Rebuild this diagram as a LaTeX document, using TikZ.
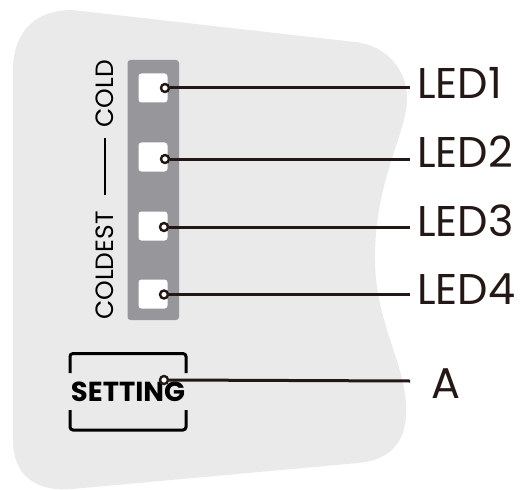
\documentclass[tikz,border=0pt]{standalone}
\usepackage{fontspec}
\setmainfont{Poppins}
\definecolor{bg}{HTML}{EAEAEA}
\definecolor{strip}{HTML}{96969B}
\definecolor{ink}{HTML}{231815}
\begin{document}
\begin{tikzpicture}[x=1pt,y=-1pt,
  ledbox/.style={rectangle,rounded corners=3pt,fill=white,minimum size=29pt,inner sep=0pt},
  dot/.style={circle,draw=ink,line width=2.4pt,fill=white,minimum size=8pt,inner sep=0pt},
  lbl/.style={anchor=base west,inner sep=0pt,font=\fontsize{43}{43}\selectfont,text=ink},
  lead/.style={draw=ink,line width=3pt},
  side/.style={rotate=90,inner sep=0pt,font=\fontsize{25}{25}\selectfont,text=black},
]
\useasboundingbox (0,0) rectangle (529,489);
% panel
\fill[bg] (13,440) -- (13,70) .. controls (13,32) and (35,10) .. (72,10)
  -- (355,42) .. controls (390,46) and (412,75) .. (406,110)
  .. controls (400,145) and (376,185) .. (375,255)
  .. controls (374,320) and (404,360) .. (406,405)
  .. controls (408,440) and (392,460) .. (358,463)
  -- (72,489) .. controls (35,492) and (13,475) .. (13,440) -- cycle;
% strip
\fill[strip,rounded corners=3pt] (127.5,60) rectangle (179,320);
% LEDs
\node[ledbox] (led1) at (153,88) {};
\node[ledbox] (led2) at (153,157) {};
\node[ledbox] (led3) at (153,226) {};
\node[ledbox] (led4) at (153,294) {};
% side text
\node[side,anchor=west] (coldest) at (105,320) {COLDEST};
\node[side,anchor=east] (cold) at (105,60) {COLD};
\draw[black,line width=1.3pt] (105,195) -- (105,138);
% setting
\draw[black,line width=3pt,rounded corners=3pt] (70,373) -- (70,353.5) -- (186,353.5) -- (186,373);
\draw[black,line width=3pt,rounded corners=3pt] (70,410) -- (70,430) -- (186,430) -- (186,410);
\node[inner sep=0pt,anchor=base,font=\bfseries\fontsize{27.5}{27.5}\selectfont] (setting) at (128,401.5) {SETTING};
% labels
\node[lbl] (l1) at (417,98.5) {LED1};
\node[lbl] (l2) at (417,167.5) {LED2};
\node[lbl] (l3) at (417,236.5) {LED3};
\node[lbl] (l4) at (417,304.5) {LED4};
\node[lbl] (la) at (431,398) {A};
\coordinate (e1) at (410,88);
\coordinate (e2) at (410,159);
\coordinate (e3) at (410,227);
\coordinate (e4) at (410,294.5);
\coordinate (ea) at (410,381);
% connectors
\node[dot] (c1) at (165,88) {};
\node[dot] (c2) at (165,159) {};
\node[dot] (c3) at (164,227) {};
\node[dot] (c4) at (164,294.5) {};
\node[dot] (ca) at (164,380) {};
\draw[lead] (c1.east) -- (e1);
\draw[lead] (c2.east) -- (e2);
\draw[lead] (c3.east) -- (e3);
\draw[lead] (c4.east) -- (e4);
\draw[lead] (ca.east) -- (ea);
\end{tikzpicture}
\end{document}
